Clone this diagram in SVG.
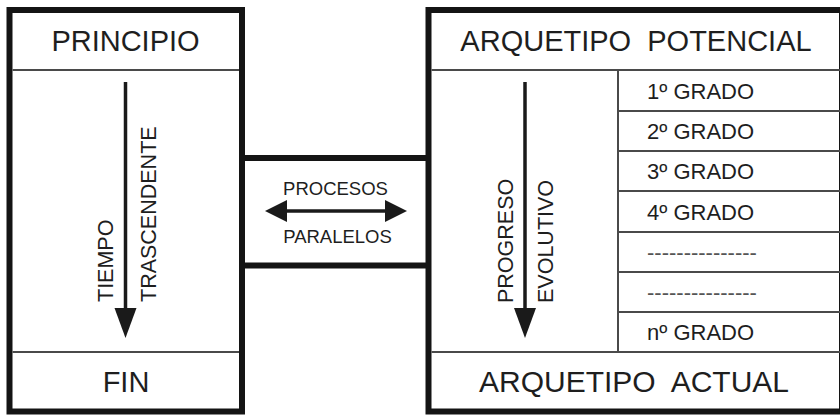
<svg xmlns="http://www.w3.org/2000/svg" width="840" height="416" viewBox="0 0 840 416">
<defs>
<style>
.box{fill:#fff;stroke:#141414;stroke-width:6}
.div{stroke:#4a4a4a;stroke-width:2;fill:none}
.band{stroke:#141414;stroke-width:6;fill:none}
.arr{stroke:#1a1a1a;stroke-width:3.5;fill:none}
text{font-family:"Liberation Sans",Arial,sans-serif;fill:#1e1e1e}
.hd{font-size:29px;text-anchor:middle}
.vt{font-size:21.5px}
.gr{font-size:22px}
.mid{font-size:18.5px;text-anchor:middle}
</style>
<marker id="headV" markerUnits="userSpaceOnUse" markerWidth="32" markerHeight="24" refX="2" refY="11" orient="auto">
<path d="M0,0 L30,11 L0,22 z" fill="#1a1a1a"/>
</marker>
<marker id="headH" markerUnits="userSpaceOnUse" markerWidth="24" markerHeight="24" refX="2" refY="11" orient="auto-start-reverse">
<path d="M0,0 L22,11 L0,22 z" fill="#1a1a1a"/>
</marker>
</defs>
<rect width="840" height="416" fill="#fff"/>

<g id="left-box">
<rect class="box" x="9.5" y="10" width="232.5" height="401.5"/>
<line class="div" x1="12.5" y1="70" x2="239" y2="70"/>
<line class="div" x1="12.5" y1="352" x2="239" y2="352"/>
<text class="hd" x="125.5" y="51">PRINCIPIO</text>
<text class="hd" x="126" y="392">FIN</text>
<text class="vt" transform="translate(113,302) rotate(-90)">TIEMPO</text>
<text class="vt" transform="translate(156,302) rotate(-90)">TRASCENDENTE</text>
</g>

<g id="middle">
<text class="mid" x="335.5" y="195">PROCESOS</text>
<text class="mid" x="337.5" y="243">PARALELOS</text>
</g>

<g id="right-box">
<rect class="box" x="428.5" y="10" width="413.5" height="401.5"/>
<line class="div" x1="431.5" y1="70" x2="840" y2="70"/>
<line class="div" x1="431.5" y1="352" x2="840" y2="352"/>
<line class="div" x1="618" y1="70" x2="618" y2="352"/>
<line class="div" x1="618" y1="111" x2="840" y2="111"/>
<line class="div" x1="618" y1="151" x2="840" y2="151"/>
<line class="div" x1="618" y1="191" x2="840" y2="191"/>
<line class="div" x1="618" y1="232" x2="840" y2="232"/>
<line class="div" x1="618" y1="272" x2="840" y2="272"/>
<line class="div" x1="618" y1="312" x2="840" y2="312"/>
<text class="hd" x="636" y="51" xml:space="preserve">ARQUETIPO  POTENCIAL</text>
<text class="hd" x="634" y="392" style="font-size:30px" xml:space="preserve">ARQUETIPO  ACTUAL</text>
<text class="vt" transform="translate(513,303) rotate(-90)">PROGRESO</text>
<text class="vt" transform="translate(553,303) rotate(-90)">EVOLUTIVO</text>
<text class="gr" x="647" y="99">1º GRADO</text>
<text class="gr" x="647" y="139">2º GRADO</text>
<text class="gr" x="647" y="179">3º GRADO</text>
<text class="gr" x="647" y="220">4º GRADO</text>
<text class="gr" x="647" y="260" style="fill:#555">---------------</text>
<text class="gr" x="647" y="300" style="fill:#555">---------------</text>
<text class="gr" x="647" y="340">nº GRADO</text>
</g>

<g id="connectors">
<line class="band" x1="242" y1="158" x2="428.5" y2="158"/>
<line class="band" x1="242" y1="265.5" x2="428.5" y2="265.5"/>
<line class="arr" x1="125.5" y1="82" x2="125.5" y2="310" marker-end="url(#headV)"/>
<line class="arr" x1="525" y1="82" x2="525" y2="310" marker-end="url(#headV)"/>
<line class="arr" x1="285" y1="211" x2="387" y2="211" marker-start="url(#headH)" marker-end="url(#headH)"/>
</g>
</svg>
